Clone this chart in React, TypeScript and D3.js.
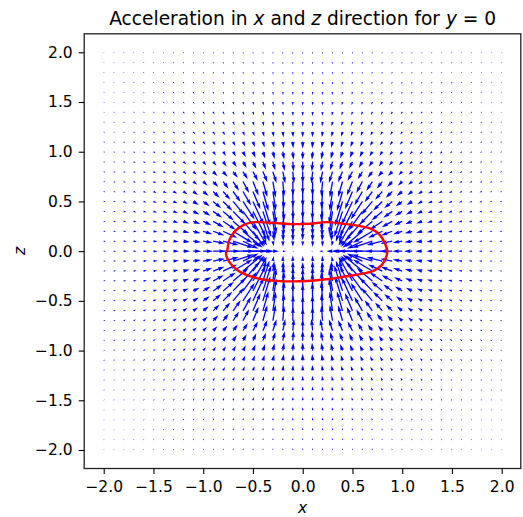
import React, { useEffect, useRef } from "react";
import * as d3 from "d3";

const WIDTH = 523;
const HEIGHT = 517;

const tickValues = [-2, -1.5, -1, -0.5, 0, 0.5, 1, 1.5, 2];

// grid positions of the upper left quarter, the other quarters are read as mirror images of it
const gridX = [-2, -1.9, -1.8, -1.7, -1.6, -1.5, -1.4, -1.3, -1.2, -1.1, -1, -0.9, -0.8, -0.7, -0.6, -0.5, -0.4, -0.3, -0.2, -0.1, 0];
const gridZ = [2, 1.9, 1.8, 1.7, 1.6, 1.5, 1.4, 1.3, 1.2, 1.1, 1, 0.9, 0.8, 0.7, 0.6, 0.5, 0.4, 0.3, 0.2, 0.1, 0];

// acceleration size (one row per gridZ)
const accSize = [
  [1.35, 1.4, 1.45, 1.5, 1.6, 1.65, 1.75, 1.8, 1.9, 1.95, 2, 2.1, 2.15, 2.2, 2.25, 2.3, 2.3, 2.35, 2.4, 2.4, 2.4],
  [1.4, 1.45, 1.5, 1.6, 1.7, 1.8, 1.85, 1.95, 2, 2.1, 2.2, 2.25, 2.3, 2.4, 2.45, 2.5, 2.55, 2.6, 2.6, 2.65, 2.65],
  [1.45, 1.55, 1.6, 1.7, 1.8, 1.9, 2, 2.1, 2.2, 2.25, 2.35, 2.45, 2.55, 2.6, 2.65, 2.75, 2.8, 2.85, 2.9, 2.9, 2.9],
  [1.55, 1.6, 1.75, 1.85, 1.95, 2.05, 2.15, 2.25, 2.35, 2.45, 2.55, 2.65, 2.75, 2.85, 2.95, 3.05, 3.1, 3.15, 3.2, 3.25, 3.25],
  [1.6, 1.75, 1.85, 1.95, 2.05, 2.15, 2.3, 2.4, 2.55, 2.65, 2.75, 2.9, 3.05, 3.15, 3.3, 3.4, 3.5, 3.55, 3.6, 3.65, 3.65],
  [1.75, 1.85, 1.95, 2.05, 2.2, 2.3, 2.45, 2.6, 2.7, 2.85, 3.05, 3.2, 3.35, 3.5, 3.65, 3.8, 3.9, 4, 4.1, 4.1, 4.15],
  [1.85, 1.95, 2.05, 2.2, 2.35, 2.45, 2.6, 2.75, 2.95, 3.15, 3.35, 3.55, 3.75, 3.95, 4.1, 4.3, 4.4, 4.55, 4.65, 4.7, 4.7],
  [1.9, 2.05, 2.2, 2.3, 2.45, 2.65, 2.85, 3, 3.25, 3.45, 3.7, 3.95, 4.2, 4.4, 4.65, 4.9, 5.1, 5.25, 5.4, 5.45, 5.5],
  [2, 2.15, 2.3, 2.5, 2.65, 2.85, 3.05, 3.3, 3.55, 3.8, 4.05, 4.35, 4.7, 5, 5.3, 5.6, 5.85, 6.05, 6.3, 6.35, 6.4],
  [2.1, 2.25, 2.45, 2.6, 2.8, 3.05, 3.3, 3.6, 3.9, 4.2, 4.6, 4.9, 5.3, 5.7, 6.1, 6.5, 6.8, 7.1, 7.4, 7.5, 7.6],
  [2.2, 2.4, 2.55, 2.75, 3, 3.25, 3.55, 3.85, 4.2, 4.6, 5, 5.5, 6, 6.5, 7, 7.6, 8, 8.4, 8.8, 8.9, 9],
  [2.3, 2.5, 2.7, 2.9, 3.15, 3.5, 3.8, 4.15, 4.6, 5, 5.6, 6.2, 6.8, 7.5, 8.2, 8.9, 9.5, 10, 10.5, 10.8, 11],
  [2.4, 2.6, 2.8, 3.05, 3.35, 3.7, 4.05, 4.5, 5, 5.6, 6.2, 7, 7.8, 8.8, 10, 11.5, 12.5, 13, 13, 13, 12.5],
  [2.5, 2.7, 2.95, 3.2, 3.55, 3.95, 4.35, 4.8, 5.5, 6.1, 6.9, 8.5, 10, 12, 14, 16, 17, 17, 16, 15, 14],
  [2.55, 2.75, 3.05, 3.35, 3.7, 4.15, 4.6, 5.2, 5.9, 6.7, 8, 10, 12, 14, 17, 20, 21, 20, 18, 16.5, 16],
  [2.6, 2.85, 3.15, 3.5, 3.85, 4.3, 4.85, 5.5, 6.3, 7.5, 9, 11.5, 14, 18, 22, 26, 26, 23, 20, 19, 18],
  [2.65, 2.95, 3.25, 3.6, 4, 4.5, 5.1, 5.8, 6.7, 7.9, 9.5, 12, 15, 19, 24, 28, 27, 23, 20, 19, 18],
  [2.7, 3, 3.35, 3.7, 4.15, 4.7, 5.3, 6.1, 7.1, 8.4, 10, 13, 16, 21, 26, 28, 22, 18, 16, 15, 14],
  [2.75, 3.05, 3.4, 3.75, 4.2, 4.75, 5.4, 6.2, 7.3, 8.6, 10.5, 13, 16.5, 23, 26, 20, 12, 11, 11, 11, 10],
  [2.8, 3.1, 3.45, 3.85, 4.3, 4.85, 5.5, 6.4, 7.5, 8.8, 10.5, 13, 17, 22, 18, 10, 6, 6, 6.5, 6.5, 6],
  [2.8, 3.1, 3.45, 3.85, 4.3, 4.9, 5.6, 6.5, 7.7, 9, 10.8, 13.5, 17.5, 22, 24, 20, 12, 7, 4, 2, 0],
];

// arrow direction in degrees below the horizontal, pointing in to the body
const accAngle = [
  [50, 51, 53, 54, 56, 58, 59, 61, 63, 65, 67, 69, 71, 73, 76, 78, 80, 83, 85, 88, 90],
  [48, 50, 51, 53, 54, 56, 58, 60, 62, 64, 66, 68, 70, 73, 75, 77, 80, 82, 85, 87, 90],
  [47, 48, 50, 51, 53, 55, 56, 58, 60, 63, 65, 67, 69, 72, 74, 77, 79, 82, 85, 87, 90],
  [45, 46, 48, 50, 51, 53, 55, 57, 59, 61, 63, 66, 68, 71, 73, 76, 79, 82, 84, 87, 90],
  [43, 45, 46, 48, 50, 51, 53, 55, 58, 60, 62, 64, 67, 70, 72, 75, 78, 81, 84, 87, 90],
  [41, 43, 44, 46, 48, 50, 52, 54, 56, 58, 60, 63, 66, 68, 71, 74, 77, 80, 84, 87, 90],
  [39, 41, 42, 44, 46, 48, 50, 52, 54, 56, 59, 61, 64, 67, 70, 73, 76, 80, 83, 87, 90],
  [37, 39, 40, 42, 44, 45, 47, 50, 52, 54, 57, 60, 62, 65, 69, 72, 75, 79, 83, 86, 90],
  [35, 37, 38, 40, 41, 43, 45, 47, 50, 52, 55, 58, 60, 64, 67, 70, 74, 78, 82, 86, 90],
  [33, 34, 36, 37, 39, 41, 43, 45, 47, 50, 52, 55, 58, 62, 65, 69, 73, 77, 81, 86, 90],
  [30, 32, 33, 35, 36, 38, 40, 42, 44, 47, 50, 53, 56, 59, 63, 67, 71, 76, 80, 85, 90],
  [28, 29, 30, 32, 33, 35, 37, 39, 41, 44, 47, 50, 53, 56, 60, 65, 69, 74, 79, 85, 90],
  [25, 26, 28, 29, 30, 32, 34, 36, 38, 41, 43, 46, 50, 53, 58, 62, 67, 72, 78, 84, 90],
  [22, 23, 25, 26, 27, 29, 30, 32, 36, 39, 43, 47, 52, 57, 62, 68, 74, 80, 85, 89, 90],
  [19, 20, 21, 23, 24, 25, 27, 28, 33, 36, 40, 44, 49, 54, 60, 67, 74, 81, 86, 89, 90],
  [16, 17, 18, 19, 20, 21, 23, 24, 29, 32, 36, 40, 45, 50, 57, 65, 73, 81, 86, 89, 90],
  [13, 14, 15, 16, 16, 17, 19, 20, 25, 27, 31, 35, 40, 46, 54, 63, 72, 81, 86, 89, 90],
  [10, 11, 11, 12, 12, 13, 14, 15, 20, 22, 25, 29, 34, 40, 49, 60, 72, 82, 87, 89, 90],
  [7, 7, 7, 8, 8, 9, 10, 10, 14, 16, 18, 21, 25, 31, 40, 54, 72, 82, 87, 89, 90],
  [3, 3, 4, 4, 4, 4, 5, 5, 7, 8, 9, 11, 14, 18, 26, 40, 65, 80, 87, 89, 90],
  [0, 0, 0, 0, 0, 0, 0, 0, 0, 0, 0, 0, 0, 0, 0, 0, 0, 0, 0, 0, 0],
];

// red outline of the body
const outlineX = [-0.758, -0.738, -0.68, -0.597, -0.513, -0.429, -0.264, -0.094, 0.073, 0.241, 0.408, 0.576, 0.693, 0.777, 0.827, 0.85, 0.837, 0.794, 0.71, 0.576, 0.442, 0.308, 0.141, -0.027, -0.228, -0.396, -0.53, -0.647, -0.731, -0.771];
const outlineZ = [0.01, 0.111, 0.201, 0.262, 0.289, 0.292, 0.282, 0.272, 0.275, 0.292, 0.275, 0.252, 0.221, 0.161, 0.077, 0, -0.063, -0.141, -0.198, -0.231, -0.252, -0.275, -0.292, -0.302, -0.302, -0.285, -0.252, -0.198, -0.118, -0.023];

const SHAFT = 1.3; // arrow shaft width in px
const FONT = "'DejaVu Sans', sans-serif";
const TICK_FONT = 15.5;
const TITLE_FONT = 18.6;

const titleParts = [
  { text: "Acceleration in ", italic: false },
  { text: "x", italic: true },
  { text: " and ", italic: false },
  { text: "z", italic: true },
  { text: " direction for ", italic: false },
  { text: "y", italic: true },
  { text: " = 0", italic: false },
];

// matplotlib style arrow: short ones shrink as a whole instead of losing the head
function arrowPoints(len: number) {
  const minLen = 5 * SHAFT;
  const f = len < minLen ? len / minLen : 1;
  const L = len < minLen ? minLen : len;
  const w = SHAFT;
  const pts = [
    [0, w / 2], [L - 4.5 * w, w / 2], [L - 5 * w, 1.5 * w], [L, 0],
    [L - 5 * w, -1.5 * w], [L - 4.5 * w, -w / 2], [0, -w / 2],
  ];
  return pts.map(p => `${(p[0] * f).toFixed(2)},${(p[1] * f).toFixed(2)}`).join(" ");
}

export default function App() {
  const ref = useRef<SVGSVGElement>(null);

  useEffect(() => {
    const svg = d3.select(ref.current);
    svg.selectAll("*").remove();

    const xscale = d3.scaleLinear().domain([-2, 2]).range([103.7, 501.7]);
    const zscale = d3.scaleLinear().domain([-2, 2]).range([450, 52.3]);
    const lenscale = d3.scalePow().exponent(1.1).domain([0, 28]).range([0, 28]);

    // all four quarters from the table
    const arrows: { x: number; z: number; size: number; rot: number }[] = [];
    gridZ.forEach((z, r) => {
      gridX.forEach((x, c) => {
        const size = accSize[r][c];
        if (size <= 0) return;
        const a = accAngle[r][c];
        arrows.push({ x, z, size, rot: a });
        if (x !== 0) arrows.push({ x: -x, z, size, rot: 180 - a });
        if (z !== 0) arrows.push({ x, z: -z, size, rot: -a });
        if (x !== 0 && z !== 0) arrows.push({ x: -x, z: -z, size, rot: 180 + a });
      });
    });

    svg.append("g")
      .selectAll("polygon")
      .data(arrows)
      .join("polygon")
      .attr("points", d => arrowPoints(lenscale(d.size)))
      .attr("transform", d => `translate(${xscale(d.x).toFixed(2)},${zscale(d.z).toFixed(2)}) rotate(${d.rot})`)
      .attr("fill", "#0000ff");

    const outline = d3.line<number>()
      .x(i => xscale(outlineX[i]))
      .y(i => zscale(outlineZ[i]))
      .curve(d3.curveCatmullRomClosed.alpha(0.5));

    svg.append("path")
      .attr("d", outline(d3.range(outlineX.length)))
      .attr("fill", "none")
      .attr("stroke", "#ff0000")
      .attr("stroke-width", 2.4);

    // frame
    svg.append("rect")
      .attr("x", 84.2).attr("y", 33.8)
      .attr("width", 436.6).attr("height", 434.7)
      .attr("fill", "none")
      .attr("stroke", "#222")
      .attr("stroke-width", 1.3);

    const fmt = d3.format(".1f");
    const xaxis = d3.axisBottom(xscale).tickValues(tickValues).tickFormat(d => fmt(d as number)).tickSize(5.5).tickPadding(7);
    const zaxis = d3.axisLeft(zscale).tickValues(tickValues).tickFormat(d => fmt(d as number)).tickSize(5.5).tickPadding(6);

    const g_x = svg.append("g").attr("transform", "translate(0,468.5)").call(xaxis);
    const g_z = svg.append("g").attr("transform", "translate(84.2,0)").call(zaxis);
    [g_x, g_z].forEach(g => {
      g.select(".domain").remove();
      g.selectAll("line").attr("stroke", "#000").attr("stroke-width", 1.1);
      g.selectAll("text").attr("font-family", FONT).attr("font-size", TICK_FONT).attr("fill", "#000");
    });

    // title and axis labels
    svg.append("text")
      .attr("x", 302.7).attr("y", 25)
      .attr("text-anchor", "middle")
      .attr("font-family", FONT)
      .attr("font-size", TITLE_FONT)
      .style("white-space", "pre")
      .selectAll("tspan")
      .data(titleParts)
      .join("tspan")
      .attr("font-style", d => (d.italic ? "italic" : "normal"))
      .text(d => d.text);

    svg.append("text")
      .attr("x", 302.7).attr("y", 513)
      .attr("text-anchor", "middle")
      .attr("font-family", FONT)
      .attr("font-size", TICK_FONT)
      .attr("font-style", "italic")
      .text("x");

    svg.append("text")
      .attr("transform", "translate(25,251) rotate(-90)")
      .attr("text-anchor", "middle")
      .attr("font-family", FONT)
      .attr("font-size", TICK_FONT)
      .attr("font-style", "italic")
      .text("z");
  }, []);

  return (
    <svg
      ref={ref}
      width={WIDTH}
      height={HEIGHT}
      style={{ position: "absolute", left: 0, top: 0, display: "block", background: "#fff" }}
    />
  );
}
